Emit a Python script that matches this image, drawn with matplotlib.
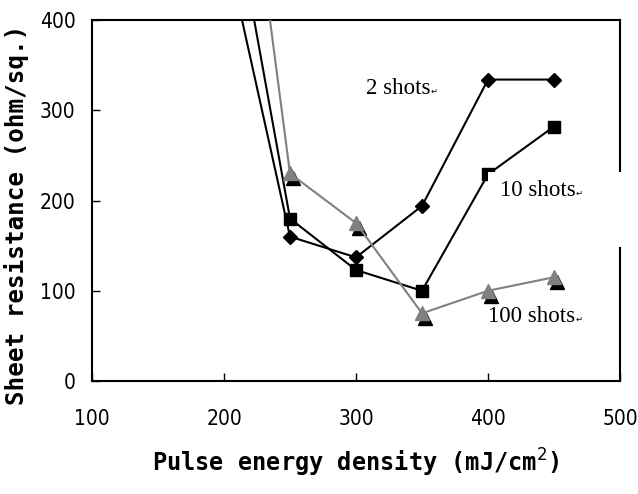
import matplotlib
matplotlib.use("Agg")
import matplotlib.pyplot as plt
from matplotlib.patches import Rectangle
from matplotlib.transforms import offset_copy

# pulse energy density (mJ/cm2) and sheet resistance (ohm/sq.)
energy = [200, 250, 300, 350, 400, 450]
rs_2shots = [490, 160, 137, 194, 334, 334]
rs_10shots = [585, 180, 123, 100, 229, 282]
rs_100shots = [790, 230, 175, 75, 100, 115]

x_ticks = [100, 200, 300, 400, 500]
y_ticks = [0, 100, 200, 300, 400]

tick_font = ["DejaVu Sans"]
label_font = ["DejaVu Sans Mono"]
note_font = ["Liberation Serif", "DejaVu Serif"]

fig = plt.figure(figsize=(6.38, 4.94), dpi=100)
ax = fig.add_axes([0.1442, 0.2287, 0.8276, 0.7308])

ax.plot(energy, rs_2shots, color="black", lw=1.5, marker="D", ms=7, zorder=3)
ax.plot(energy, rs_10shots, color="black", lw=1.5, marker="s", ms=8, zorder=3)
# triangles carry a black drop shadow
shadow = offset_copy(ax.transData, fig=fig, x=2.5, y=-3.5, units="points")
ax.plot(energy, rs_100shots, color="black", lw=0, marker="^", ms=10,
        transform=shadow, zorder=3)
ax.plot(energy, rs_100shots, color="#808080", lw=1.5, marker="^", ms=10,
        zorder=3.5)

ax.set_xlim(100, 500)
ax.set_ylim(0, 400)
ax.set_xticks(x_ticks)
ax.set_yticks(y_ticks)
ax.tick_params(direction="in", length=6, width=1)
ax.tick_params(axis="x", pad=20)
ax.tick_params(axis="y", pad=12)
for lab in ax.get_xticklabels() + ax.get_yticklabels():
    lab.set_family(tick_font)
    lab.set_fontstretch("condensed")
    lab.set_fontsize(15)

for sp in ax.spines.values():
    sp.set_linewidth(1.5)

ax.set_xlabel("Pulse energy density (mJ/cm$^2$)", family=label_font,
              fontweight="bold", fontsize=17, labelpad=13)
ax.set_ylabel("Sheet resistance (ohm/sq.)", family=label_font,
              fontweight="bold", fontsize=17.5)
ax.yaxis.set_label_coords(-0.12, 0.46)

# white box under the "10 shots" note (hides part of the frame)
ax.add_patch(Rectangle((0.75, 0.371), 0.27, 0.208, transform=ax.transAxes,
                       facecolor="white", edgecolor="none", zorder=4,
                       clip_on=False))

notes = [("2 shots", 0.519, 0.81), ("10 shots", 0.773, 0.528),
         ("100 shots", 0.75, 0.178)]
for txt, nx, ny in notes:
    t = ax.text(nx, ny, txt, transform=ax.transAxes, family=note_font,
                fontsize=16.5, ha="left", va="center", zorder=5)
    ax.annotate("\u21b5", xy=(1.0, 0.15), xycoords=t, fontsize=6,
                family=["DejaVu Sans"], ha="left", va="bottom", zorder=5)

fig.savefig("out.png", dpi=100)
